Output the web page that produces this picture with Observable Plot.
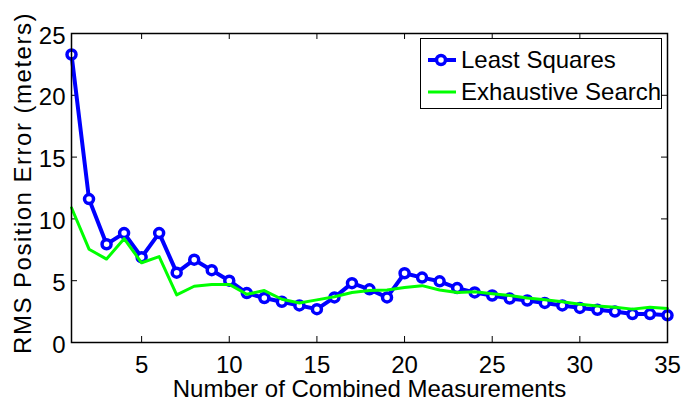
<!DOCTYPE html>
<html>
<head>
<meta charset="utf-8">
<script src="https://cdn.jsdelivr.net/npm/d3@7"></script>
<script src="https://cdn.jsdelivr.net/npm/@observablehq/plot@0.6"></script>
<style>
  html, body { margin: 0; padding: 0; background: #fff; }
  #wrap { position: relative; width: 683px; height: 403px; font-family: "Liberation Sans", Arial, sans-serif; }
  #legend { position: absolute; left: 420px; top: 38px; width: 242px; height: 71px; box-sizing: border-box;
            border: 1.5px solid #000; background: #fff; }
  .lrow { position: absolute; left: 0; height: 30px; display: flex; align-items: center; font-size: 24px; color: #000; white-space: nowrap; }
  .lrow svg { display: block; margin-left: 6px; margin-right: 4px; }
</style>
</head>
<body>
<div id="wrap"></div>
<script>
// ---- data ----
const measurements = [1,2,3,4,5,6,7,8,9,10,11,12,13,14,15,16,17,18,19,20,21,22,23,24,25,26,27,28,29,30,31,32,33,34,35];
const leastSquares = [23.3, 11.6, 7.95, 8.85, 6.9, 8.85, 5.65, 6.7, 5.85, 5.0, 4.0, 3.6, 3.3, 3.0, 2.7, 3.65, 4.8, 4.3, 3.65, 5.6, 5.25, 4.95, 4.4, 4.05, 3.8, 3.55, 3.4, 3.2, 3.0, 2.8, 2.65, 2.5, 2.3, 2.3, 2.2];
const exhaustive   = [10.9, 7.55, 6.75, 8.4, 6.45, 6.95, 3.85, 4.55, 4.7, 4.7, 3.9, 4.2, 3.5, 3.2, 3.45, 3.7, 4.05, 4.2, 4.25, 4.45, 4.6, 4.25, 4.05, 4.1, 3.95, 3.8, 3.6, 3.45, 3.3, 3.1, 2.95, 2.85, 2.7, 2.85, 2.75];
const seriesNames = ["Least Squares", "Exhaustive Search"];
const seriesColors = ["#0000ff", "#00ff00"];
const xTicks = [5, 10, 15, 20, 25, 30, 35];
const yTicks = [0, 5, 10, 15, 20, 25];
const xTitle = "Number of Combined Measurements";
const yTitle = "RMS Position Error (meters)";

// ---- layout ----
const W = 683, H = 403, mL = 71, mR = 16, mT = 33, mB = 61;
const plotH = H - mT - mB, plotW = W - mL - mR;
const rows = measurements.map((m, i) => ({m, ls: leastSquares[i], ex: exhaustive[i]}));

const chart = Plot.plot({
  width: W, height: H,
  marginLeft: mL, marginRight: mR, marginTop: mT, marginBottom: mB,
  style: {fontFamily: "'Liberation Sans', Arial, sans-serif", fontSize: "24px", color: "#000", background: "#fff", overflow: "visible"},
  x: {domain: [1, 35]},
  y: {domain: [0, 25]},
  marks: [
    Plot.axisX(xTicks, {tickSize: 0, tickPadding: 13, label: null, fontSize: 24}),
    Plot.axisY(yTicks, {tickSize: 0, tickPadding: 6, label: null, fontSize: 24, dy: 2.5}),
    Plot.tickX(xTicks, {x: d => d, insetTop: plotH - 6, stroke: "#000", strokeWidth: 1}),
    Plot.tickX(xTicks, {x: d => d, insetBottom: plotH - 6, stroke: "#000", strokeWidth: 1}),
    Plot.tickY(yTicks, {y: d => d, insetRight: plotW - 6, stroke: "#000", strokeWidth: 1}),
    Plot.tickY(yTicks, {y: d => d, insetLeft: plotW - 6, stroke: "#000", strokeWidth: 1}),
    Plot.line(rows, {x: "m", y: "ls", stroke: seriesColors[0], strokeWidth: 4}),
    Plot.dot(rows, {x: "m", y: "ls", r: 4.5, stroke: seriesColors[0], strokeWidth: 3.5, fill: "#fff"}),
    Plot.line(rows, {x: "m", y: "ex", stroke: seriesColors[1], strokeWidth: 3}),
    Plot.frame({stroke: "#000", strokeWidth: 1.5}),
    Plot.text([xTitle], {text: d => d, frameAnchor: "bottom", dy: 47, lineAnchor: "middle", textAnchor: "middle", fontSize: 24, fill: "#000"}),
    Plot.text([yTitle], {text: d => d, frameAnchor: "left", rotate: -90, dx: -48, dy: -5, lineAnchor: "middle", textAnchor: "middle", fontSize: 24, fill: "#000"})
  ]
});

d3.select(chart).selectAll("text").filter(function() { return this.textContent === yTitle; })
  .attr("letter-spacing", "1.5px");

const wrap = document.getElementById("wrap");
wrap.appendChild(chart);

// ---- legend ----
const legend = d3.select(wrap).append("div").attr("id", "legend");
seriesNames.forEach((name, i) => {
  const row = legend.append("div").attr("class", "lrow").style("top", (i === 0 ? 6 : 38) + "px");
  const svg = row.append("svg").attr("width", 30).attr("height", 16);
  svg.append("line").attr("x1", 1).attr("x2", 29).attr("y1", 8).attr("y2", 8)
     .attr("stroke", seriesColors[i]).attr("stroke-width", i === 0 ? 4 : 3);
  if (i === 0) svg.append("circle").attr("cx", 14).attr("cy", 8).attr("r", 4.5)
     .attr("stroke", seriesColors[i]).attr("stroke-width", 3.5).attr("fill", "#fff");
  row.append("span").text(name);
});
</script>
</body>
</html>
